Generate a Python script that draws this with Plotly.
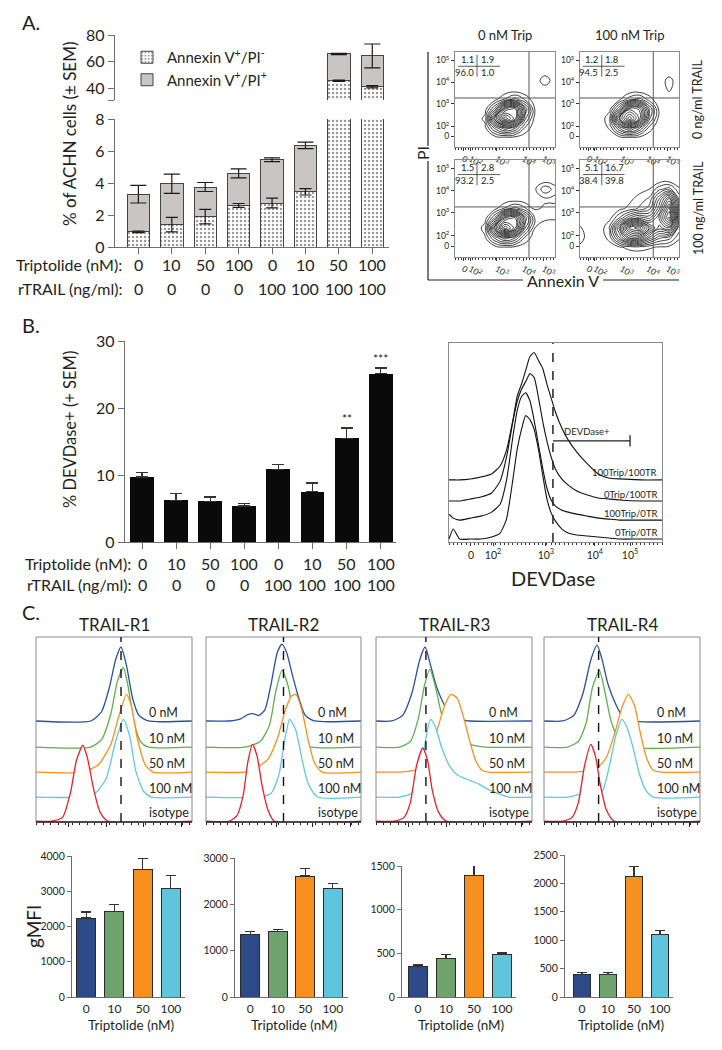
import plotly.graph_objects as go

W, H = 722, 1050          # reference picture size (coordinates below are in its pixels)
OFF = 8                   # page body margin of the html page
FW, FH = W - 2 * OFF, H - 2 * OFF
FONT = "Lato"
INK = "#231f20"
AXC = "#6d6d6d"

# ======================= DATA =======================
# ---- Panel A: bar chart (% of ACHN cells)
a_trip = ["0", "10", "50", "100", "0", "10", "50", "100"]
a_trail = ["0", "0", "0", "0", "100", "100", "100", "100"]
a_pi_neg = [0.95, 1.4, 1.9, 2.6, 2.75, 3.45, 45.5, 41.0]
a_pi_neg_sem = [0.05, 0.45, 0.45, 0.12, 0.3, 0.2, 0.5, 0.8]
a_total = [3.3, 3.95, 3.75, 4.6, 5.45, 6.35, 65.7, 64.2]
a_total_sem = [0.55, 0.6, 0.28, 0.28, 0.12, 0.2, 0.5, 9.0]
a_sig = ["", "", "", "", "", "", "****", "****"]
a_low_ticks = [0, 2, 4, 6, 8]
a_high_ticks = [40, 60, 80]

# ---- Panel A: flow cytometry contour plots (display units 0..1)
flow_tick_x = [0.083, 0.15, 0.417, 0.683, 0.883]
flow_tick_y = [0.112, 0.218, 0.456, 0.684, 0.912]
flow_tick_text = ["0", "10<sup>2</sup>", "10<sup>3</sup>", "10<sup>4</sup>", "10<sup>5</sup>"]
flow_grid = [0.0, 0.1, 0.2, 0.3, 0.4, 0.5, 0.6, 0.7, 0.8, 0.9, 1.0]
flow_gate_x = 0.74
flow_gate_y = 0.516
flow_col_titles = ["0 nM Trip", "100 nM Trip"]
flow_row_titles = ["0 ng/ml TRAIL", "100 ng/ml TRAIL"]
# quadrant percentages: [UL, UR, LL, LR]
stats_0trip_0trail = ["1.1", "1.9", "96.0", "1.0"]
stats_100trip_0trail = ["1.2", "1.8", "94.5", "2.5"]
stats_0trip_100trail = ["1.5", "2.8", "93.2", "2.5"]
stats_100trip_100trail = ["5.1", "16.7", "38.4", "39.8"]
z_0trip_0trail = [
    [0, 0, 0, 0, 0, 0, 0, 0, 0, 0, 0],
    [0, 0, 0, 0, 0.2, 0.35, 0.3, 0.1, 0, 0, 0],
    [0, 0, 0, 0.3, 2.5, 4, 3, 1, 0, 0, 0],
    [0, 0, 0, 0.7, 6, 10, 8, 2.5, 0.2, 0, 0],
    [0, 0, 0, 0.2, 2.5, 7, 8, 3.5, 0.4, 0, 0],
    [0, 0, 0, 0, 0.3, 1.2, 2, 1, 0.1, 0, 0],
    [0, 0, 0, 0, 0, 0, 0.1, 0, 0, 0, 0],
    [0, 0, 0, 0, 0, 0, 0, 0, 0, 1.0, 0],
    [0, 0, 0, 0, 0, 0, 0, 0, 0, 0, 0],
    [0, 0, 0, 0, 0, 0, 0, 0, 0, 0, 0],
    [0, 0, 0, 0, 0, 0, 0, 0, 0, 0, 0],
]
z_100trip_0trail = [
    [0, 0, 0, 0, 0, 0, 0, 0, 0, 0, 0],
    [0, 0, 0, 0.1, 0.3, 0.4, 0.3, 0.1, 0, 0, 0],
    [0, 0, 0, 0.6, 3, 4.5, 3, 0.8, 0, 0, 0],
    [0, 0, 0, 1, 7, 10, 7.5, 2.5, 0.2, 0, 0],
    [0, 0, 0, 0.3, 3, 7.5, 7, 3, 0.3, 0, 0],
    [0, 0, 0, 0, 0.4, 1.5, 2, 0.8, 0, 0, 0],
    [0, 0, 0, 0, 0, 0, 0, 0, 0, 0.6, 0],
    [0, 0, 0, 0, 0, 0, 0, 0, 0, 0.8, 0],
    [0, 0, 0, 0, 0, 0, 0, 0, 0, 0, 0],
    [0, 0, 0, 0, 0, 0, 0, 0, 0, 0, 0],
    [0, 0, 0, 0, 0, 0, 0, 0, 0, 0, 0],
]
z_0trip_100trail = [
    [0, 0, 0, 0, 0, 0, 0, 0, 0, 0, 0],
    [0, 0, 0, 0, 0.2, 0.4, 0.3, 0.1, 0, 0, 0],
    [0, 0, 0, 0.4, 2.5, 4, 3, 1, 0.1, 0, 0],
    [0, 0, 0, 0.8, 6, 10, 8, 3, 0.5, 0.2, 0],
    [0, 0, 0, 0.2, 2.5, 7, 8, 4, 1, 0.6, 0.6],
    [0, 0, 0, 0, 0.3, 1.2, 2, 1.2, 0.4, 0.6, 0.7],
    [0, 0, 0, 0, 0, 0, 0, 0, 0.2, 0.4, 0.3],
    [0, 0, 0, 0, 0, 0, 0, 0, 0.4, 1.6, 0.8],
    [0, 0, 0, 0, 0, 0, 0, 0, 0, 0, 0],
    [0, 0, 0, 0, 0, 0, 0, 0, 0, 0, 0],
    [0, 0, 0, 0, 0, 0, 0, 0, 0, 0, 0],
]
z_100trip_100trail = [
    [0, 0, 0, 0, 0, 0, 0, 0, 0, 0, 0],
    [0.3, 0, 0, 0.1, 0.4, 0.7, 0.8, 0.6, 0.4, 0.3, 0.1],
    [0.9, 0, 0, 0.8, 3.5, 6, 6, 4, 2.5, 2, 0.6],
    [0.6, 0, 0, 1.2, 5, 9, 10, 7, 5, 6, 1.5],
    [0, 0, 0, 0.3, 1.8, 3.5, 4.5, 4, 6, 9, 2.5],
    [0, 0, 0, 0, 0.3, 0.7, 1.2, 2, 4.5, 8, 2],
    [0, 0, 0, 0, 0, 0.3, 0.8, 1.2, 3.5, 6, 1.5],
    [0, 0, 0, 0, 0, 0, 0.2, 0.5, 1.5, 2, 0.6],
    [0, 0, 0, 0, 0, 0, 0, 0, 0, 0, 0],
    [0, 0, 0, 0, 0, 0, 0, 0, 0, 0, 0],
    [0, 0, 0, 0, 0, 0, 0, 0, 0, 0, 0],
]

# ---- Panel B: bar chart (% DEVDase+)
b_trip = ["0", "10", "50", "100", "0", "10", "50", "100"]
b_trail = ["0", "0", "0", "0", "100", "100", "100", "100"]
b_devd = [9.7, 6.2, 6.07, 5.37, 10.85, 7.5, 15.5, 25.1]
b_devd_sem = [0.65, 1.0, 0.65, 0.35, 0.7, 1.3, 1.5, 0.85]
b_sig = ["", "", "", "", "", "", "**", "***"]
b_ticks = [0, 10, 20, 30]

# ---- Panel B: DEVDase histogram (display units)
devd_tick_pos = [0.103, 0.207, 0.455, 0.685, 0.85]
devd_tick_text = ["0", "10<sup>2</sup>", "10<sup>3</sup>", "10<sup>4</sup>", "10<sup>5</sup>"]
devd_gate = [0.488, 0.85]
devd_labels = ["0Trip/0TR", "100Trip/0TR", "0Trip/100TR", "100Trip/100TR"]
devd_offsets = [0.015, 0.11, 0.206, 0.312]
devd_x = [0.0, 0.02, 0.05, 0.1, 0.15, 0.2, 0.24, 0.27, 0.3, 0.32, 0.34, 0.36, 0.38, 0.4,
          0.42, 0.44, 0.46, 0.48, 0.5, 0.53, 0.56, 0.6, 0.65, 0.7, 0.75, 0.8, 0.9, 1.0]
devd_0trip_0tr = [0.0, 0.05, 0.0, 0.0, 0.0, 0.01, 0.03, 0.1, 0.3, 0.45, 0.55, 0.62, 0.6, 0.55,
                  0.45, 0.32, 0.2, 0.13, 0.09, 0.05, 0.03, 0.02, 0.015, 0.01, 0.005, 0.0, 0.0, 0.0]
devd_100trip_0tr = [0.03, 0.01, 0.0, 0.01, 0.02, 0.04, 0.08, 0.2, 0.42, 0.55, 0.62, 0.64, 0.6, 0.5,
                    0.38, 0.26, 0.16, 0.1, 0.07, 0.05, 0.04, 0.03, 0.02, 0.01, 0.005, 0.0, 0.0, 0.0]
devd_0trip_100tr = [0.0, 0.0, 0.0, 0.01, 0.02, 0.04, 0.1, 0.22, 0.4, 0.5, 0.56, 0.6, 0.64, 0.62,
                    0.52, 0.4, 0.3, 0.22, 0.16, 0.11, 0.08, 0.05, 0.03, 0.015, 0.01, 0.005, 0.0, 0.0]
devd_100trip_100tr = [0.0, 0.0, 0.0, 0.005, 0.015, 0.03, 0.07, 0.15, 0.3, 0.42, 0.48, 0.55, 0.62, 0.64,
                      0.6, 0.56, 0.48, 0.41, 0.34, 0.26, 0.2, 0.14, 0.08, 0.03, 0.01, 0.005, 0.0, 0.0]

# ---- Panel C: TRAIL receptor histograms (display units; x, height above offset)
c_receptors = ["TRAIL-R1", "TRAIL-R2", "TRAIL-R3", "TRAIL-R4"]
c_labels = ["0 nM", "10 nM", "50 nM", "100 nM", "isotype"]
c_colors = ["#2d4fa2", "#5db14b", "#f7901e", "#63c7dd", "#e42127"]
c_offsets = [0.546, 0.405, 0.27, 0.135, 0.005]
c_median_line = [0.545, 0.5, 0.32, 0.35]
c_major_ticks = [0.21, 0.455, 0.69, 0.93]
r1_curves = [
    ([0.35, 0.42, 0.47, 0.51, 0.545, 0.58, 0.62, 0.66, 0.72], [0, 0.05, 0.18, 0.33, 0.40, 0.30, 0.12, 0.03, 0]),
    ([0.35, 0.42, 0.48, 0.52, 0.56, 0.59, 0.63, 0.67, 0.72], [0, 0.04, 0.18, 0.35, 0.43, 0.33, 0.13, 0.03, 0]),
    ([0.3, 0.4, 0.48, 0.53, 0.58, 0.61, 0.65, 0.7, 0.75], [0, 0.04, 0.15, 0.3, 0.42, 0.36, 0.18, 0.04, 0]),
    ([0.3, 0.38, 0.45, 0.51, 0.56, 0.6, 0.64, 0.69, 0.74], [0, 0.02, 0.1, 0.3, 0.42, 0.33, 0.14, 0.03, 0]),
    ([0.1, 0.17, 0.22, 0.26, 0.3, 0.33, 0.37, 0.41, 0.46], [0, 0.02, 0.15, 0.33, 0.41, 0.34, 0.17, 0.05, 0]),
]
r2_curves = [
    ([0.15, 0.22, 0.27, 0.3, 0.34, 0.38, 0.42, 0.46, 0.49, 0.52, 0.56, 0.6, 0.64, 0.7],
     [0, 0.01, 0.035, 0.04, 0.03, 0.06, 0.2, 0.37, 0.415, 0.37, 0.24, 0.12, 0.03, 0]),
    ([0.25, 0.35, 0.41, 0.45, 0.49, 0.53, 0.57, 0.62, 0.68], [0, 0.03, 0.12, 0.3, 0.415, 0.33, 0.15, 0.03, 0]),
    ([0.25, 0.32, 0.4, 0.46, 0.51, 0.55, 0.58, 0.62, 0.66, 0.7, 0.75], [0, 0.02, 0.07, 0.18, 0.33, 0.41, 0.42, 0.33, 0.17, 0.05, 0]),
    ([0.35, 0.42, 0.47, 0.51, 0.54, 0.58, 0.62, 0.66, 0.72], [0, 0.02, 0.12, 0.32, 0.42, 0.36, 0.2, 0.07, 0]),
    ([0.15, 0.2, 0.24, 0.27, 0.3, 0.33, 0.36, 0.4, 0.44], [0, 0.03, 0.14, 0.32, 0.415, 0.35, 0.2, 0.06, 0]),
]
r3_curves = [
    ([0.1, 0.17, 0.23, 0.28, 0.315, 0.35, 0.39, 0.43, 0.47, 0.52, 0.6], [0, 0.03, 0.15, 0.33, 0.4, 0.3, 0.18, 0.1, 0.04, 0.01, 0]),
    ([0.15, 0.22, 0.27, 0.31, 0.345, 0.38, 0.42, 0.47, 0.55, 0.62, 0.7], [0, 0.03, 0.15, 0.33, 0.42, 0.33, 0.18, 0.08, 0.04, 0.01, 0]),
    ([0.15, 0.25, 0.3, 0.35, 0.4, 0.44, 0.48, 0.52, 0.56, 0.6, 0.64, 0.68, 0.72],
     [0, 0.01, 0.04, 0.12, 0.25, 0.36, 0.42, 0.4, 0.3, 0.17, 0.06, 0.01, 0]),
    ([0.15, 0.23, 0.28, 0.32, 0.35, 0.38, 0.42, 0.47, 0.52, 0.6, 0.66, 0.72, 0.78, 0.85],
     [0, 0.02, 0.1, 0.32, 0.42, 0.38, 0.27, 0.17, 0.12, 0.09, 0.07, 0.04, 0.02, 0]),
    ([0.12, 0.18, 0.22, 0.26, 0.3, 0.33, 0.36, 0.4, 0.45], [0, 0.02, 0.1, 0.3, 0.395, 0.33, 0.17, 0.05, 0]),
]
r4_curves = [
    ([0.12, 0.19, 0.25, 0.3, 0.34, 0.37, 0.41, 0.46, 0.5, 0.56], [0, 0.03, 0.15, 0.33, 0.41, 0.34, 0.2, 0.09, 0.03, 0]),
    ([0.15, 0.22, 0.27, 0.31, 0.355, 0.39, 0.43, 0.48, 0.54], [0, 0.03, 0.13, 0.32, 0.415, 0.3, 0.14, 0.04, 0]),
    ([0.2, 0.3, 0.35, 0.4, 0.45, 0.5, 0.54, 0.58, 0.62, 0.66, 0.7, 0.75], [0, 0.01, 0.03, 0.08, 0.2, 0.35, 0.42, 0.36, 0.2, 0.07, 0.01, 0]),
    ([0.15, 0.25, 0.32, 0.36, 0.38, 0.42, 0.46, 0.5, 0.53, 0.57, 0.61, 0.65, 0.7],
     [0, 0.02, 0.04, 0.02, 0.04, 0.17, 0.33, 0.42, 0.38, 0.27, 0.13, 0.04, 0]),
    ([0.12, 0.18, 0.22, 0.26, 0.3, 0.33, 0.36, 0.4, 0.45], [0, 0.02, 0.1, 0.3, 0.415, 0.35, 0.2, 0.06, 0]),
]
c_curves = [r1_curves, r2_curves, r3_curves, r4_curves]

# ---- Panel C: gMFI bars
c_doses = ["0", "10", "50", "100"]
c_bar_colors = ["#2c4a87", "#6fa36c", "#f7901e", "#5ec5dd"]
gmfi_r1 = [2240, 2430, 3620, 3070]
gmfi_r1_sem = [170, 190, 320, 380]
gmfi_r2 = [1350, 1410, 2610, 2340]
gmfi_r2_sem = [57, 43, 170, 107]
gmfi_r3 = [355, 439, 1389, 492]
gmfi_r3_sem = [19, 46, 138, 15]
gmfi_r4 = [390, 396, 2128, 1105]
gmfi_r4_sem = [41, 35, 165, 71]
gmfi_ranges = [4000, 3000, 1500, 2500]
gmfi_dticks = [1000, 1000, 500, 500]

# ======================= FIGURE =======================
fig = go.Figure()
axes = {}
annotations = []
shapes = []


def px_x(p):
    return (p - OFF) / FW


def px_y(p):
    return 1 - (p - OFF) / FH


def ax(n):
    return ("x" if n == 1 else f"x{n}", "y" if n == 1 else f"y{n}")


def add_axes(n, x0, x1, ytop, ybot, xr, yr, xkw=None, ykw=None):
    xa, ya = ax(n)
    xd = dict(domain=[px_x(x0), px_x(x1)], range=xr, anchor=ya, showgrid=False, zeroline=False,
              automargin=False)
    yd = dict(domain=[px_y(ybot), px_y(ytop)], range=yr, anchor=xa, showgrid=False, zeroline=False,
              automargin=False)
    xd.update(xkw or {})
    yd.update(ykw or {})
    axes["xaxis" if n == 1 else f"xaxis{n}"] = xd
    axes["yaxis" if n == 1 else f"yaxis{n}"] = yd


def note(x, y, s, size, xref="paper", yref="paper", **kw):
    d = dict(x=x, y=y, xref=xref, yref=yref, text=s, showarrow=False, xanchor="center",
             yanchor="middle", font=dict(family=FONT, size=size, color=INK))
    d.update(kw)
    annotations.append(d)


def txt(x, y, s, size, **kw):
    note(px_x(x), px_y(y), s, size, **kw)


def pline(x0, y0, x1, y1, color=INK, width=1.2):
    shapes.append(dict(type="line", xref="paper", yref="paper", x0=px_x(x0), x1=px_x(x1),
                       y0=px_y(y0), y1=px_y(y1), line=dict(color=color, width=width)))


def bar_axis(**kw):
    d = dict(showline=True, linecolor=AXC, linewidth=1.3, ticks="outside", ticklen=6,
             tickcolor=AXC, tickwidth=1.3, tickfont=dict(family=FONT, size=16, color=INK))
    d.update(kw)
    return d


def err_scatter(xs, ys, errs, n, width=8, sym=True):
    xa, ya = ax(n)
    return go.Scatter(x=xs, y=ys, mode="markers", marker=dict(size=2, color="rgba(0,0,0,0)"),
                      error_y=dict(type="data", array=errs, arrayminus=errs if sym else [0] * len(errs),
                                   symmetric=False, color="#1a1a1a", thickness=1.2, width=width),
                      xaxis=xa, yaxis=ya, showlegend=False, hoverinfo="skip")


# ---------------- Panel A bars ----------------
idx = list(range(len(a_trip)))
a_pi_pos = [t - v for t, v in zip(a_total, a_pi_neg)]
add_axes(1, 115, 389, 119, 247, [-0.7, 7.5], [0, 8],
         xkw=bar_axis(tickvals=idx, showticklabels=False),
         ykw=bar_axis(tickvals=a_low_ticks))
add_axes(2, 115, 389, 35, 100, [-0.7, 7.5], [31, 80],
         xkw=dict(visible=False),
         ykw=bar_axis(tickvals=[31] + a_high_ticks, ticktext=[""] + [str(v) for v in a_high_ticks]))

for n in (1, 2):
    xa, ya = ax(n)
    fig.add_trace(go.Bar(
        x=idx, y=a_pi_neg, width=0.67, xaxis=xa, yaxis=ya,
        name="Annexin V<sup>+</sup>/PI<sup>-</sup>", legendgroup="neg", showlegend=(n == 1),
        marker=dict(color="white", line=dict(color="#444", width=1),
                    pattern=dict(shape=".", fgcolor="#333", bgcolor="white", size=4, solidity=0.3))))
    fig.add_trace(go.Bar(
        x=idx, y=a_pi_pos, width=0.67, xaxis=xa, yaxis=ya,
        name="Annexin V<sup>+</sup>/PI<sup>+</sup>", legendgroup="pos", showlegend=(n == 1),
        marker=dict(color="#c9c5c5", line=dict(color="#444", width=1))))

for n, lo, hi in ((1, 0, 8), (2, 31, 80)):
    s1 = [i for i in idx if lo <= a_total[i] <= hi]
    fig.add_trace(err_scatter(s1, [a_total[i] for i in s1], [a_total_sem[i] for i in s1], n, width=8))
    s2 = [i for i in idx if lo <= a_pi_neg[i] <= hi]
    fig.add_trace(err_scatter(s2, [a_pi_neg[i] for i in s2], [a_pi_neg_sem[i] for i in s2], n, width=6))

for i, s in enumerate(a_sig):
    if s:
        note(i, 80.6, s, 12, xref="x2", yref="y2")
for i in idx:
    note(i, px_y(265), a_trip[i], 16, xref="x")
    note(i, px_y(288), a_trail[i], 16, xref="x")
txt(124, 265, "Triptolide (nM):", 16, xanchor="right")
txt(124, 288, "rTRAIL (ng/ml):", 16, xanchor="right")
txt(70, 134, "% of ACHN cells (± SEM)", 17, textangle=-90)
txt(20, 22, "A.", 20, xanchor="left")

# ---------------- Panel A flow plots ----------------
flow_panels = [
    (3, 455, 555, 52, 147, z_0trip_0trail, stats_0trip_0trail),
    (4, 580, 679, 52, 147, z_100trip_0trail, stats_100trip_0trail),
    (5, 455, 555, 160, 257, z_0trip_100trail, stats_0trip_100trail),
    (6, 580, 679, 160, 257, z_100trip_100trail, stats_100trip_100trail),
]
flow_tickfont = dict(family=FONT, size=8.5, color=INK)
for n, x0, x1, yt, yb, z, st in flow_panels:
    add_axes(n, x0, x1, yt, yb, [0, 1], [0, 1],
             xkw=dict(showline=True, mirror=True, linecolor="#8a8a8a", linewidth=1, ticks="outside",
                      ticklen=3, tickcolor="#333", tickvals=flow_tick_x, ticktext=flow_tick_text,
                      tickfont=flow_tickfont,
                      minor=dict(ticks="outside", ticklen=1.5, tickmode="linear", tick0=0, dtick=0.034,
                                 tickcolor="#333")),
             ykw=dict(showline=True, mirror=True, linecolor="#8a8a8a", linewidth=1, ticks="outside",
                      ticklen=3, tickcolor="#333", tickvals=flow_tick_y, ticktext=flow_tick_text,
                      tickfont=flow_tickfont))
    xa, ya = ax(n)
    fig.add_trace(go.Contour(x=flow_grid, y=flow_grid, z=z, xaxis=xa, yaxis=ya,
                             contours=dict(coloring="lines", start=0.5, end=10, size=0.6),
                             line=dict(width=0.8, smoothing=1.3),
                             colorscale=[[0, "#111"], [1, "#111"]], showscale=False, hoverinfo="skip"))
    shapes.append(dict(type="line", xref=xa, yref=ya, x0=flow_gate_x, x1=flow_gate_x, y0=0, y1=1,
                       line=dict(color="#555", width=1)))
    shapes.append(dict(type="line", xref=xa, yref=ya, x0=0, x1=1, y0=flow_gate_y, y1=flow_gate_y,
                       line=dict(color="#555", width=1)))
    shapes.append(dict(type="line", xref=f"{xa} domain", yref=f"{ya} domain", x0=0.03, x1=0.45,
                       y0=0.85, y1=0.85, line=dict(color="#333", width=0.8)))
    shapes.append(dict(type="line", xref=f"{xa} domain", yref=f"{ya} domain", x0=0.22, x1=0.22,
                       y0=0.74, y1=0.97, line=dict(color="#333", width=0.8)))
    for s, xx, yy, anc in ((st[0], 0.205, 0.92, "right"), (st[1], 0.235, 0.92, "left"),
                           (st[2], 0.205, 0.785, "right"), (st[3], 0.235, 0.785, "left")):
        note(xx, yy, s, 9.5, xref=f"{xa} domain", yref=f"{ya} domain", xanchor=anc)

txt(505, 35, flow_col_titles[0], 13)
txt(629, 35, flow_col_titles[1], 13)
txt(698, 100, flow_row_titles[0], 12.5, textangle=-90)
txt(698, 208, flow_row_titles[1], 12.5, textangle=-90)
txt(423, 153, "PI", 16, textangle=-90)
txt(563, 280, "Annexin V", 16)
pline(428, 52, 428, 146)
pline(428, 161, 428, 280)
pline(428, 280, 523, 280)
pline(603, 280, 679, 280)

# ---------------- Panel B bars ----------------
add_axes(7, 125, 396, 341, 542, [-0.5, 7.45], [0, 30],
         xkw=bar_axis(tickvals=idx, showticklabels=False),
         ykw=bar_axis(tickvals=b_ticks))
fig.add_trace(go.Bar(x=idx, y=b_devd, width=0.7, xaxis="x7", yaxis="y7", showlegend=False,
                     marker=dict(color="#0a0a0a", line=dict(width=0)),
                     error_y=dict(type="data", array=b_devd_sem, arrayminus=[0] * len(b_devd),
                                  symmetric=False, color="#333", thickness=1.3, width=6)))
for i, s in enumerate(b_sig):
    if s:
        note(i, b_devd[i] + b_devd_sem[i] + 1.4, s, 12, xref="x7", yref="y7")
for i in idx:
    note(i, px_y(563), b_trip[i], 16, xref="x7")
    note(i, px_y(584), b_trail[i], 16, xref="x7")
txt(133, 563, "Triptolide (nM):", 16, xanchor="right")
txt(133, 584, "rTRAIL (ng/ml):", 16, xanchor="right")
txt(70, 430, "% DEVDase+ (+ SEM)", 16.5, textangle=-90)
txt(20, 325, "B.", 20, xanchor="left")

# ---------------- Panel B histogram ----------------
add_axes(8, 449, 662, 343, 542, [0, 1], [0, 1],
         xkw=dict(showline=True, mirror=True, linecolor="#8a8a8a", linewidth=1, ticks="outside", ticklen=3,
                  tickcolor="#333", tickvals=devd_tick_pos, ticktext=devd_tick_text,
                  tickfont=dict(family=FONT, size=10.5, color=INK),
                  minor=dict(ticks="outside", ticklen=2, tickmode="linear", tick0=0, dtick=0.02,
                             tickcolor="#333")),
         ykw=dict(showline=True, mirror=True, linecolor="#8a8a8a", linewidth=1, ticks="",
                  showticklabels=False))
for hs, off in zip([devd_0trip_0tr, devd_100trip_0tr, devd_0trip_100tr, devd_100trip_100tr], devd_offsets):
    fig.add_trace(go.Scatter(x=devd_x, y=[off + h for h in hs], mode="lines", xaxis="x8", yaxis="y8",
                             line=dict(color="#111", width=1.1, shape="spline", smoothing=0.5),
                             showlegend=False, hoverinfo="skip"))
for lab, off in zip(devd_labels, devd_offsets):
    note(0.985, off + 0.035, lab, 9.5, xref="x8", yref="y8", xanchor="right")
shapes.append(dict(type="line", xref="x8", yref="y8", x0=devd_gate[0], x1=devd_gate[0], y0=0, y1=1,
                   line=dict(color="#222", width=1.5, dash="dash")))
shapes.append(dict(type="line", xref="x8", yref="y8", x0=devd_gate[0], x1=devd_gate[1], y0=0.508, y1=0.508,
                   line=dict(color="#222", width=1.3)))
shapes.append(dict(type="line", xref="x8", yref="y8", x0=devd_gate[1], x1=devd_gate[1], y0=0.48, y1=0.536,
                   line=dict(color="#222", width=1.3)))
note(0.65, 0.555, "DEVDase+", 9.5, xref="x8", yref="y8")
txt(553, 578, "DEVDase", 20)

# ---------------- Panel C histograms ----------------
c_hist_x = [(36, 192), (206, 361), (376, 532), (544, 700)]
for k, (x0, x1) in enumerate(c_hist_x):
    n = 9 + k
    add_axes(n, x0, x1, 637, 822, [0, 1], [0, 1],
             xkw=dict(showline=False, ticks="outside", ticklen=4, tickcolor=INK, tickwidth=1,
                      tickvals=c_major_ticks, showticklabels=False,
                      minor=dict(ticks="outside", ticklen=2, tickmode="linear", tick0=0, dtick=0.047,
                                 tickcolor=INK)),
             ykw=dict(showline=False, showticklabels=False, ticks=""))
    xa, ya = ax(n)
    for (xs, hs), col, off in zip(c_curves[k], c_colors, c_offsets):
        fx = [0.0] + xs + [1.0]
        fy = [off] + [off + h for h in hs] + [off]
        fig.add_trace(go.Scatter(x=fx + fx[::-1], y=fy + [off] * len(fx), mode="lines", fill="toself",
                                 fillcolor="white", line=dict(width=0, shape="spline", smoothing=0.6),
                                 xaxis=xa, yaxis=ya, showlegend=False, hoverinfo="skip"))
        fig.add_trace(go.Scatter(x=fx, y=fy, mode="lines", xaxis=xa, yaxis=ya,
                                 line=dict(color=col, width=1.3, shape="spline", smoothing=0.6),
                                 showlegend=False, hoverinfo="skip"))
    for lab, off in zip(c_labels, c_offsets):
        note(0.71, off + 0.045, lab, 12.5, xref=xa, yref=ya, xanchor="left")
    shapes.append(dict(type="rect", xref=f"{xa} domain", yref=f"{ya} domain", x0=0, x1=1, y0=0, y1=1,
                       line=dict(color="#8a8a8a", width=1)))
    shapes.append(dict(type="line", xref=f"{xa} domain", yref=f"{ya} domain", x0=0, x1=1, y0=0, y1=0,
                       line=dict(color=INK, width=1.3)))
    shapes.append(dict(type="line", xref=xa, yref=f"{ya} domain", x0=c_median_line[k], x1=c_median_line[k],
                       y0=0, y1=1, line=dict(color="#111", width=1.4, dash="dash")))
    txt((x0 + x1) / 2, 624, c_receptors[k], 17)
txt(20, 612, "C.", 20, xanchor="left")

# ---------------- Panel C bars ----------------
c_bar_geom = [(72, 185, 856, [-0.5, 3.5]), (235, 348, 858, [-0.55, 3.55]),
              (402, 516, 866, [-0.57, 3.5]), (565, 673, 855, [-0.65, 3.5])]
gmfi = [gmfi_r1, gmfi_r2, gmfi_r3, gmfi_r4]
gmfi_sem = [gmfi_r1_sem, gmfi_r2_sem, gmfi_r3_sem, gmfi_r4_sem]
cidx = list(range(len(c_doses)))
for k, (x0, x1, ytop, xr) in enumerate(c_bar_geom):
    n = 13 + k
    add_axes(n, x0, x1, ytop, 997, xr, [0, gmfi_ranges[k]],
             xkw=bar_axis(tickvals=cidx, ticktext=c_doses, ticks="", ticklen=0,
                          tickfont=dict(family=FONT, size=12, color=INK)),
             ykw=bar_axis(tickmode="linear", tick0=0, dtick=gmfi_dticks[k], ticklen=4,
                          tickfont=dict(family=FONT, size=10.5, color=INK)))
    xa, ya = ax(n)
    fig.add_trace(go.Bar(x=cidx, y=gmfi[k], width=0.68, xaxis=xa, yaxis=ya, showlegend=False,
                         marker=dict(color=c_bar_colors, line=dict(color="#2a2a2a", width=1)),
                         error_y=dict(type="data", array=gmfi_sem[k], arrayminus=[0] * 4, symmetric=False,
                                      color="#333", thickness=1.2, width=5)))
    txt((x0 + x1) / 2 + 2, 1025, "Triptolide (nM)", 13.5)
txt(33, 927, "gMFI", 19, textangle=-90)

fig.update_layout(
    width=FW, height=FH, margin=dict(l=0, r=0, t=0, b=0, pad=0, autoexpand=False),
    paper_bgcolor="white", plot_bgcolor="rgba(0,0,0,0)",
    barmode="stack", font=dict(family=FONT, color=INK),
    legend=dict(x=px_x(127), y=px_y(41), xanchor="left", yanchor="top", bgcolor="rgba(0,0,0,0)",
                font=dict(family=FONT, size=15, color=INK), tracegroupgap=0, itemwidth=30),
    annotations=annotations, shapes=shapes, **axes)

fig.write_html("out.html")
